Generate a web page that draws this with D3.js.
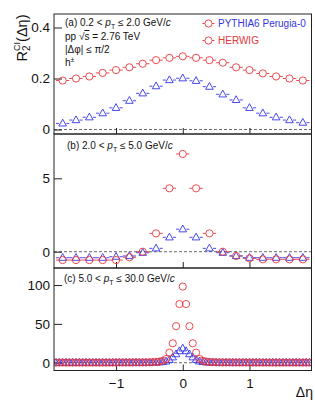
<!DOCTYPE html>
<html><head><meta charset="utf-8">
<script src="https://cdn.jsdelivr.net/npm/d3@7"></script>
<style>
html,body{margin:0;padding:0;background:#fff;}
text{font-family:'Liberation Sans',Arial,Helvetica,sans-serif;}
</style></head>
<body><svg id="c" width="315" height="404"></svg>
<script>
// ---- data ----
const etaAB = [-1.8,-1.6,-1.4,-1.2,-1.0,-0.8,-0.6,-0.4,-0.2,0,0.2,0.4,0.6,0.8,1.0,1.2,1.4,1.6,1.8];
const herwigA = [0.192,0.200,0.208,0.222,0.233,0.244,0.258,0.272,0.281,0.287,0.281,0.272,0.262,0.244,0.233,0.220,0.208,0.200,0.192];
const pythiaA = [0.024,0.037,0.048,0.064,0.085,0.113,0.142,0.170,0.194,0.201,0.191,0.168,0.138,0.116,0.085,0.064,0.048,0.037,0.027];
const herwigB = [-0.57,-0.57,-0.57,-0.57,-0.57,-0.38,0.0,1.25,4.32,6.66,4.32,1.25,0.0,-0.29,-0.45,-0.52,-0.52,-0.52,-0.52];
const pythiaB = [-0.41,-0.41,-0.41,-0.41,-0.34,-0.29,-0.07,0.23,0.98,1.53,0.98,0.23,-0.07,-0.29,-0.41,-0.41,-0.41,-0.41,-0.41];
const etaC = [-1.9,-1.85,-1.8,-1.75,-1.7,-1.65,-1.6,-1.55,-1.5,-1.45,-1.4,-1.35,-1.3,-1.25,-1.2,-1.15,-1.1,-1.05,-1.0,-0.95,-0.9,-0.85,-0.8,-0.75,-0.7,-0.65,-0.6,-0.55,-0.5,-0.45,-0.4,-0.35,-0.3,-0.25,-0.2,-0.15,-0.1,-0.05,0,0.05,0.1,0.15,0.2,0.25,0.3,0.35,0.4,0.45,0.5,0.55,0.6,0.65,0.7,0.75,0.8,0.85,0.9,0.95,1.0,1.05,1.1,1.15,1.2,1.25,1.3,1.35,1.4,1.45,1.5,1.55,1.6,1.65,1.7,1.75,1.8,1.85,1.9];
const herwigC = [0.2,0.2,0.2,0.2,0.2,0.2,0.2,0.2,0.2,0.2,0.2,0.2,0.2,0.2,0.2,0.2,0.2,0.2,0.3,0.3,0.3,0.3,0.3,0.3,0.4,0.4,0.4,0.4,0.5,0.7,1.0,1.5,2.5,4.8,13,25,47,75.5,98,75.5,47,25,13,4.8,2.5,1.5,1.0,0.7,0.5,0.4,0.4,0.4,0.4,0.3,0.3,0.3,0.3,0.3,0.3,0.2,0.2,0.2,0.2,0.2,0.2,0.2,0.2,0.2,0.2,0.2,0.2,0.2,0.2,0.2,0.2,0.2,0.2];
const pythiaC = [0.1,0.1,0.1,0.1,0.1,0.1,0.1,0.1,0.1,0.1,0.1,0.1,0.1,0.1,0.1,0.1,0.1,0.1,0.1,0.1,0.1,0.1,0.1,0.1,0.1,0.1,0.1,0.1,0.2,0.3,0.4,0.6,1.0,1.8,3.8,7,11,15,18.5,15,11,7,3.8,1.8,1.0,0.6,0.4,0.3,0.2,0.1,0.1,0.1,0.1,0.1,0.1,0.1,0.1,0.1,0.1,0.1,0.1,0.1,0.1,0.1,0.1,0.1,0.1,0.1,0.1,0.1,0.1,0.1,0.1,0.1,0.1,0.1,0.1];
const xTicks = [-1,0,1];
const xTickLabels = ["\u22121","0","1"];
const yTicksA = [0,0.2,0.4], yTickLabelsA = ["0","0.2","0.4"];
const yTicksB = [0,5], yTickLabelsB = ["0","5"];
const yTicksC = [0,50,100], yTickLabelsC = ["0","50","100"];
const legendNames = ["PYTHIA6 Perugia-0","HERWIG"];

// ---- styles ----
const RED = "#e8383d", BLUE = "#3535e6", FRAME = "#222";
const svg = d3.select("#c");
const x = d3.scaleLinear().domain([-1.93,1.93]).range([54,311.5]);

const panels = [
  {top:14, bottom:134, dom:[-0.0176,0.453], ticks:yTicksA, labels:yTickLabelsA, eta:etaAB, red:herwigA, blue:pythiaA, hw:0.1, letter:"(a) 0.2 < ", hi:" \u2264 2.0 GeV/", lx:65, ly:26},
  {top:134, bottom:268, dom:[-1.11,8.02], ticks:yTicksB, labels:yTickLabelsB, eta:etaAB, red:herwigB, blue:pythiaB, hw:0.1, letter:"(b) 2.0 < ", hi:" \u2264 5.0 GeV/", lx:67, ly:149},
  {top:268, bottom:370.5, dom:[-10,121.9], ticks:yTicksC, labels:yTickLabelsC, eta:etaC, red:herwigC, blue:pythiaC, hw:0.025, letter:"(c) 5.0 < ", hi:" \u2264 30.0 GeV/", lx:64, ly:282}
];

const r = 3.6;
const triPath = "M0,-4.2L3.8,2.6L-3.8,2.6Z";

panels.forEach((p,pi) => {
  const y = d3.scaleLinear().domain(p.dom).range([p.bottom,p.top]);
  const g = svg.append("g");
  // dashed zero line
  g.append("line").attr("x1",x.range()[0]).attr("x2",x.range()[1])
    .attr("y1",y(0)).attr("y2",y(0))
    .attr("stroke","#444").attr("stroke-width",0.8).attr("stroke-dasharray","3,2");
  // y axis
  const ya = g.append("g").attr("transform",`translate(${x.range()[0]},0)`)
    .call(d3.axisLeft(y).tickValues(p.ticks).tickFormat((d,i)=>p.labels[i]).tickSizeInner(-8).tickSizeOuter(0).tickPadding(4));
  ya.select(".domain").remove();
  ya.selectAll(".tick line").attr("stroke",FRAME);
  ya.selectAll(".tick text").attr("font-size",13.5).attr("fill","#111").style("font-family","'Liberation Sans',Arial,sans-serif");
  // x axis
  const xa = g.append("g").attr("transform",`translate(0,${p.bottom})`)
    .call(d3.axisBottom(x).tickValues(xTicks).tickFormat((d,i)=> pi===2 ? xTickLabels[i] : "").tickSizeInner(-6).tickSizeOuter(0).tickPadding(7.5));
  xa.select(".domain").remove();
  xa.selectAll(".tick line").attr("stroke",FRAME);
  xa.selectAll(".tick text").attr("font-size",13.5).attr("fill","#111").style("font-family","'Liberation Sans',Arial,sans-serif");

  const hwPx = x(p.hw) - x(0);
  const data = p.eta.map((e,i)=>({e, red:p.red[i], blue:p.blue[i]}));
  const clip = "clip"+pi;
  svg.append("clipPath").attr("id",clip).append("rect")
    .attr("x",x.range()[0]).attr("y",p.top).attr("width",x.range()[1]-x.range()[0]).attr("height",p.bottom-p.top);
  const dg = g.append("g").attr("clip-path",`url(#${clip})`);
  // error bars (horizontal bin widths) with gap for marker
  if (hwPx > r) {
    [["red",RED],["blue",BLUE]].forEach(([k,col]) => {
      dg.selectAll(null).data(data).enter().append("path")
        .attr("d", d => `M${x(d.e)-hwPx},${y(d[k])}H${x(d.e)-r}M${x(d.e)+r},${y(d[k])}H${x(d.e)+hwPx}`)
        .attr("stroke",col).attr("stroke-width",0.9).attr("fill","none");
    });
  }
  // blue triangles
  dg.selectAll(null).data(data).enter().append("path")
    .attr("d",triPath).attr("transform",d=>`translate(${x(d.e)},${y(d.blue)})`)
    .attr("fill","none").attr("stroke",BLUE).attr("stroke-width",0.9);
  // red circles
  dg.selectAll(null).data(data).enter().append("circle")
    .attr("cx",d=>x(d.e)).attr("cy",d=>y(d.red)).attr("r",r)
    .attr("fill","none").attr("stroke",RED).attr("stroke-width",0.9);
  // frame
  g.append("rect").attr("x",x.range()[0]).attr("y",p.top).attr("width",x.range()[1]-x.range()[0]).attr("height",p.bottom-p.top)
    .attr("fill","none").attr("stroke",FRAME).attr("stroke-width",1);
  // panel label
  const t = g.append("text").attr("x",p.lx).attr("y",p.ly).attr("font-size",10).attr("fill","#111");
  t.append("tspan").text(p.letter);
  t.append("tspan").attr("font-style","italic").text("p");
  t.append("tspan").attr("font-size",7).attr("dy",3).text("T");
  t.append("tspan").attr("dy",-3).text(p.hi);
  t.append("tspan").attr("font-style","italic").text("c");
});

// extra info lines in panel (a)
const info = svg.append("g").attr("font-size",10).attr("fill","#111");
const t1 = info.append("text").attr("x",65).attr("y",40);
t1.append("tspan").text("pp \u221A");
t1.append("tspan").style("text-decoration","overline").text("s");
t1.append("tspan").text(" = 2.76 TeV");
info.append("text").attr("x",65).attr("y",53).text("|\u0394\u03C6| \u2264 \u03C0/2");
const t3 = info.append("text").attr("x",65).attr("y",66);
t3.append("tspan").text("h");
t3.append("tspan").attr("font-size",7).attr("dy",-4).text("\u00B1");

// legend
const lg = svg.append("g");
const legY = [23.5, 40.5];
const legColors = [BLUE, RED];
legendNames.forEach((n,i)=>{
  lg.append("line").attr("x1",202.5).attr("x2",214.5).attr("y1",legY[i]).attr("y2",legY[i]).attr("stroke",RED).attr("stroke-width",0.9);
  lg.append("circle").attr("cx",208.5).attr("cy",legY[i]).attr("r",r).attr("fill","#fff").attr("stroke",RED).attr("stroke-width",0.9);
  lg.append("text").attr("x",218).attr("y",legY[i]+3.8).attr("font-size",10).attr("fill",legColors[i]).text(n);
});

// y title
const yt = svg.append("text").attr("transform","translate(27,38) rotate(-90)").attr("text-anchor","middle").attr("font-size",14.5).attr("fill","#111");
yt.append("tspan").text("R");
yt.append("tspan").attr("font-size",10).attr("dy",3).text("2");
yt.append("tspan").attr("font-size",9).attr("dx",-5.5).attr("dy",-10).text("CI");
yt.append("tspan").attr("dy",7).text("(\u0394\u03B7)");

// x title
svg.append("text").attr("x",313).attr("y",397).attr("text-anchor","end").attr("font-size",14).attr("fill","#111").text("\u0394\u03B7");
</script></body></html>
